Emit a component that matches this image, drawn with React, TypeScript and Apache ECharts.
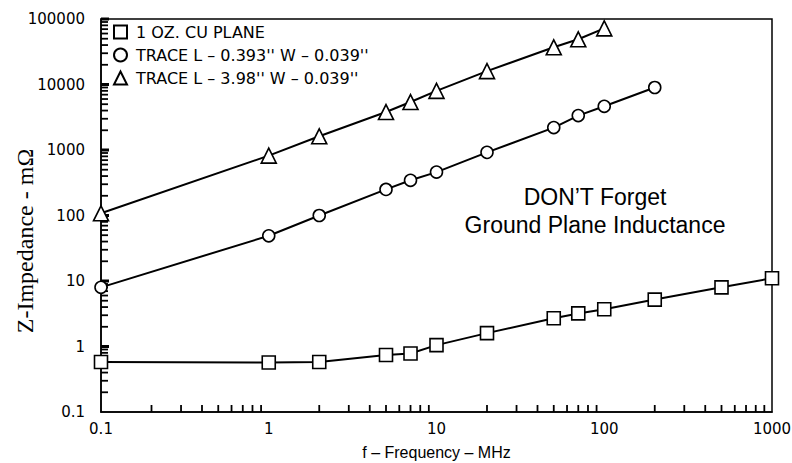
import React, { useEffect, useRef } from "react";
import * as echarts from "echarts";

const frequencies = [0.1, 1, 2, 5, 7, 10, 20, 50, 70, 100, 200, 500, 1000];
const planeValues = [0.58, 0.57, 0.58, 0.74, 0.78, 1.05, 1.6, 2.7, 3.2, 3.7, 5.2, 8.0, 11];
const traceShortFreq = [0.1, 1, 2, 5, 7, 10, 20, 50, 70, 100, 200];
const traceShortValues = [8, 49, 100, 250, 345, 460, 920, 2200, 3350, 4650, 9000];
const traceLongFreq = [0.1, 1, 2, 5, 7, 10, 20, 50, 70, 100];
const traceLongValues = [108, 820, 1620, 3800, 5400, 8000, 16000, 37000, 49000, 72000];
const seriesNames = [
  "1 OZ. CU PLANE",
  "TRACE L \u2013 0.393'' W \u2013 0.039''",
  "TRACE L \u2013 3.98'' W \u2013 0.039''",
];
const xDecades = [0.1, 1, 10, 100];
const yDecades = [0.1, 1, 10, 100, 1000, 10000];
const minorSteps = [2, 3, 4, 5, 6, 7, 8, 9];
const noteLines = ["DON\u2019T Forget", "Ground Plane Inductance"];
const yAxisTitle = "Z-Impedance - m\u03A9";
const xAxisTitle = "f \u2013 Frequency \u2013 MHz";

const X_MIN = 0.1, X_MAX = 1000, Y_MIN = 0.1, Y_MAX = 100000;

export default function App() {
  const ref = useRef<HTMLDivElement>(null);
  useEffect(() => {
    if (!ref.current) return;
    const chart = echarts.init(ref.current, null, { renderer: "svg" });
    const xMinor: number[][] = [];
    xDecades.forEach((d) => minorSteps.forEach((m) => xMinor.push([d * m, Y_MIN])));
    const yMinor: number[][] = [];
    yDecades.forEach((d) => minorSteps.forEach((m) => yMinor.push([X_MIN, d * m])));
    const yMajor: number[][] = [...yDecades.slice(1), Y_MAX].map((v) => [X_MIN, v]);
    const fmt = (v: number) => String(Number(v.toPrecision(6)));
    const markerStyle = { color: "#fff", borderColor: "#000", borderWidth: 1.6 };
    const lineStyle = { color: "#000", width: 2 };
    const mk = (name: string, xs: number[], ys: number[], symbol: string, size: number) => ({
      name,
      type: "line",
      data: xs.map((x, i) => [x, ys[i]]),
      symbol,
      symbolSize: size,
      showAllSymbol: true,
      itemStyle: markerStyle,
      lineStyle,
      z: 5,
    });
    const tickSeries = (name: string, data: number[][], vertical: boolean, len: number, w: number) => ({
      type: "custom",
      name,
      silent: true,
      data,
      renderItem: (_p: any, api: any) => {
        const p = api.coord([api.value(0), api.value(1)]);
        return vertical
          ? { type: "rect", shape: { x: p[0] - w / 2, y: p[1] - len, width: w, height: len }, style: { fill: "#000" } }
          : { type: "rect", shape: { x: p[0], y: p[1] - w / 2, width: len, height: w }, style: { fill: "#000" } };
      },
      z: 4,
    });
    chart.setOption({
      animation: false,
      backgroundColor: "#fff",
      grid: {
        left: 101,
        right: 20,
        top: 19,
        bottom: 51,
        show: true,
        borderColor: "#000",
        borderWidth: 1.5,
        containLabel: false,
        outerBoundsMode: "none",
      },
      legend: {
        orient: "vertical",
        left: 108,
        top: 19,
        itemWidth: 13,
        itemHeight: 13,
        itemGap: 7,
        selectedMode: false,
        textStyle: { color: "#000", fontSize: 16, fontFamily: "DejaVu Sans", padding: [0, 0, 0, 4] },
        data: [
          { name: seriesNames[0], icon: "rect" },
          { name: seriesNames[1], icon: "circle" },
          { name: seriesNames[2], icon: "triangle" },
        ],
      },
      xAxis: {
        type: "log",
        logBase: 10,
        min: X_MIN,
        max: X_MAX,
        splitNumber: 4,
        name: xAxisTitle,
        nameLocation: "middle",
        nameGap: 32,
        nameTextStyle: { color: "#000", fontSize: 16, fontFamily: "Liberation Sans Narrow, Liberation Sans" },
        axisLine: { lineStyle: { color: "#000", width: 1.5 } },
        axisTick: { show: false },
        axisLabel: { color: "#000", fontSize: 15, fontFamily: "DejaVu Sans", margin: 9, formatter: fmt },
        splitLine: { show: false },
      },
      yAxis: {
        type: "log",
        logBase: 10,
        min: Y_MIN,
        max: Y_MAX,
        splitNumber: 6,
        axisLine: { lineStyle: { color: "#000", width: 1.5 } },
        axisTick: { show: false },
        axisLabel: { color: "#000", fontSize: 15, fontFamily: "DejaVu Sans", margin: 16, formatter: fmt },
        splitLine: { show: false },
      },
      graphic: [
        {
          type: "text",
          x: 25,
          y: 241,
          rotation: Math.PI / 2,
          style: {
            text: yAxisTitle,
            fill: "#000",
            fontSize: 24,
            fontFamily: "Liberation Serif",
            align: "center",
            verticalAlign: "middle",
          },
        },
        {
          type: "text",
          x: 595,
          y: 197,
          style: { text: noteLines[0], fill: "#000", fontSize: 23, fontFamily: "Liberation Sans", align: "center", verticalAlign: "middle" },
        },
        {
          type: "text",
          x: 595,
          y: 225,
          style: { text: noteLines[1], fill: "#000", fontSize: 23, fontFamily: "Liberation Sans", align: "center", verticalAlign: "middle" },
        },
      ],
      series: [
        tickSeries("xMinorTicks", xMinor, true, 7, 1.8),
        tickSeries("yMinorTicks", yMinor, false, 7, 1.8),
        tickSeries("yMajorTicks", yMajor, false, 8, 3),
        mk(seriesNames[0], frequencies, planeValues, "rect", 13),
        mk(seriesNames[1], traceShortFreq, traceShortValues, "circle", 12),
        mk(seriesNames[2], traceLongFreq, traceLongValues, "triangle", 15),
      ],
    });
    return () => chart.dispose();
  }, []);
  return <div ref={ref} style={{ width: 792, height: 463, position: "absolute", left: 0, top: 0 }} />;
}
